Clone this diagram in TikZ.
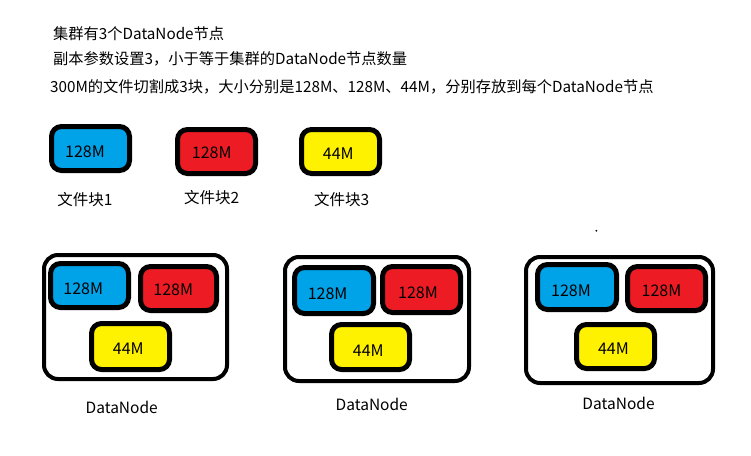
\documentclass[tikz,border=0pt]{standalone}
\usepackage{fontspec}
\setmainfont{Noto Sans CJK SC}
\definecolor{pblue}{HTML}{00A2E8}
\definecolor{pred}{HTML}{ED1C24}
\definecolor{pyellow}{HTML}{FFF200}
\tikzset{
  blk/.style={draw=black, line width=5pt, rounded corners=10pt, inner sep=0pt,
    minimum width=78pt, minimum height=44pt},
  dnbox/.style={draw=black, line width=4pt, rounded corners=14pt, inner sep=0pt, fill=white},
  txt/.style={inner sep=0pt, font=\fontsize{15.5}{18}\selectfont},
  btxt/.style={inner sep=0pt, font=\fontsize{16}{18}\selectfont},
  ttl/.style={inner sep=0pt, anchor=west, font=\fontsize{15.25}{18}\selectfont}
}
\begin{document}
\begin{tikzpicture}[x=1pt,y=-1pt]
\useasboundingbox (0,0) rectangle (751,455);
% title lines
\node[ttl] (t1) at (53,34) {集群有3个DataNode节点};
\node[ttl] (t2) at (53,59) {副本参数设置3，小于等于集群的DataNode节点数量};
\node[ttl] (t3) at (50,87) {300M的文件切割成3块，大小分别是128M、128M、44M，分别存放到每个DataNode节点};
% file blocks
\node[blk, fill=pblue] (f1) at (90.5,148.5) {};
\node[btxt] (f1t) at (85,152) {128M};
\node[blk, fill=pred] (f2) at (216.5,151.5) {};
\node[btxt] (f2t) at (211.7,152.7) {128M};
\node[blk, fill=pyellow] (f3) at (340.5,151.5) {};
\node[btxt] (f3t) at (338.3,153.3) {44M};
\node[txt] (l1) at (85,199.3) {文件块1};
\node[txt] (l2) at (211.7,198) {文件块2};
\node[txt] (l3) at (341.7,199.3) {文件块3};
% DataNode 1
\node[dnbox, minimum width=183pt, minimum height=124pt] (d1) at (135.5,317) {};
\node[blk, fill=pblue] (d1a) at (89.5,285.5) {};
\node[btxt] (d1at) at (83.3,288.3) {128M};
\node[blk, fill=pred, minimum width=76pt] (d1b) at (178.5,288.5) {};
\node[btxt] (d1bt) at (173.3,289.3) {128M};
\node[blk, fill=pyellow, minimum height=46pt] (d1c) at (130.5,346.5) {};
\node[btxt] (d1ct) at (128.3,349) {44M};
\node[txt] (d1l) at (121.7,407.7) {DataNode};
% DataNode 2
\node[dnbox, minimum width=184pt, minimum height=124pt] (d2) at (377,319) {};
\node[blk, fill=pblue, minimum width=79pt, minimum height=46pt] (d2a) at (334,290.5) {};
\node[btxt] (d2at) at (327.6,294) {128M};
\node[blk, fill=pred, minimum height=46pt] (d2b) at (421.5,289.5) {};
\node[btxt] (d2bt) at (418,292.5) {128M};
\node[blk, fill=pyellow, minimum height=45pt] (d2c) at (370.5,347) {};
\node[btxt] (d2ct) at (368.3,350.8) {44M};
\node[txt] (d2l) at (371.7,404.3) {DataNode};
% DataNode 3
\node[dnbox, minimum width=187pt, minimum height=126pt] (d3) at (619.5,320) {};
\node[blk, fill=pblue, minimum width=79pt, minimum height=45pt] (d3a) at (577,287) {};
\node[btxt] (d3at) at (571,291.2) {128M};
\node[blk, fill=pred] (d3b) at (666.5,288.5) {};
\node[btxt] (d3bt) at (661.5,291.2) {128M};
\node[blk, fill=pyellow] (d3c) at (615.5,346.5) {};
\node[btxt] (d3ct) at (613.4,348.8) {44M};
\node[txt] (d3l) at (618.5,403) {DataNode};
% stray dot
\fill (596.4,230.8) circle (1pt);
\end{tikzpicture}
\end{document}
